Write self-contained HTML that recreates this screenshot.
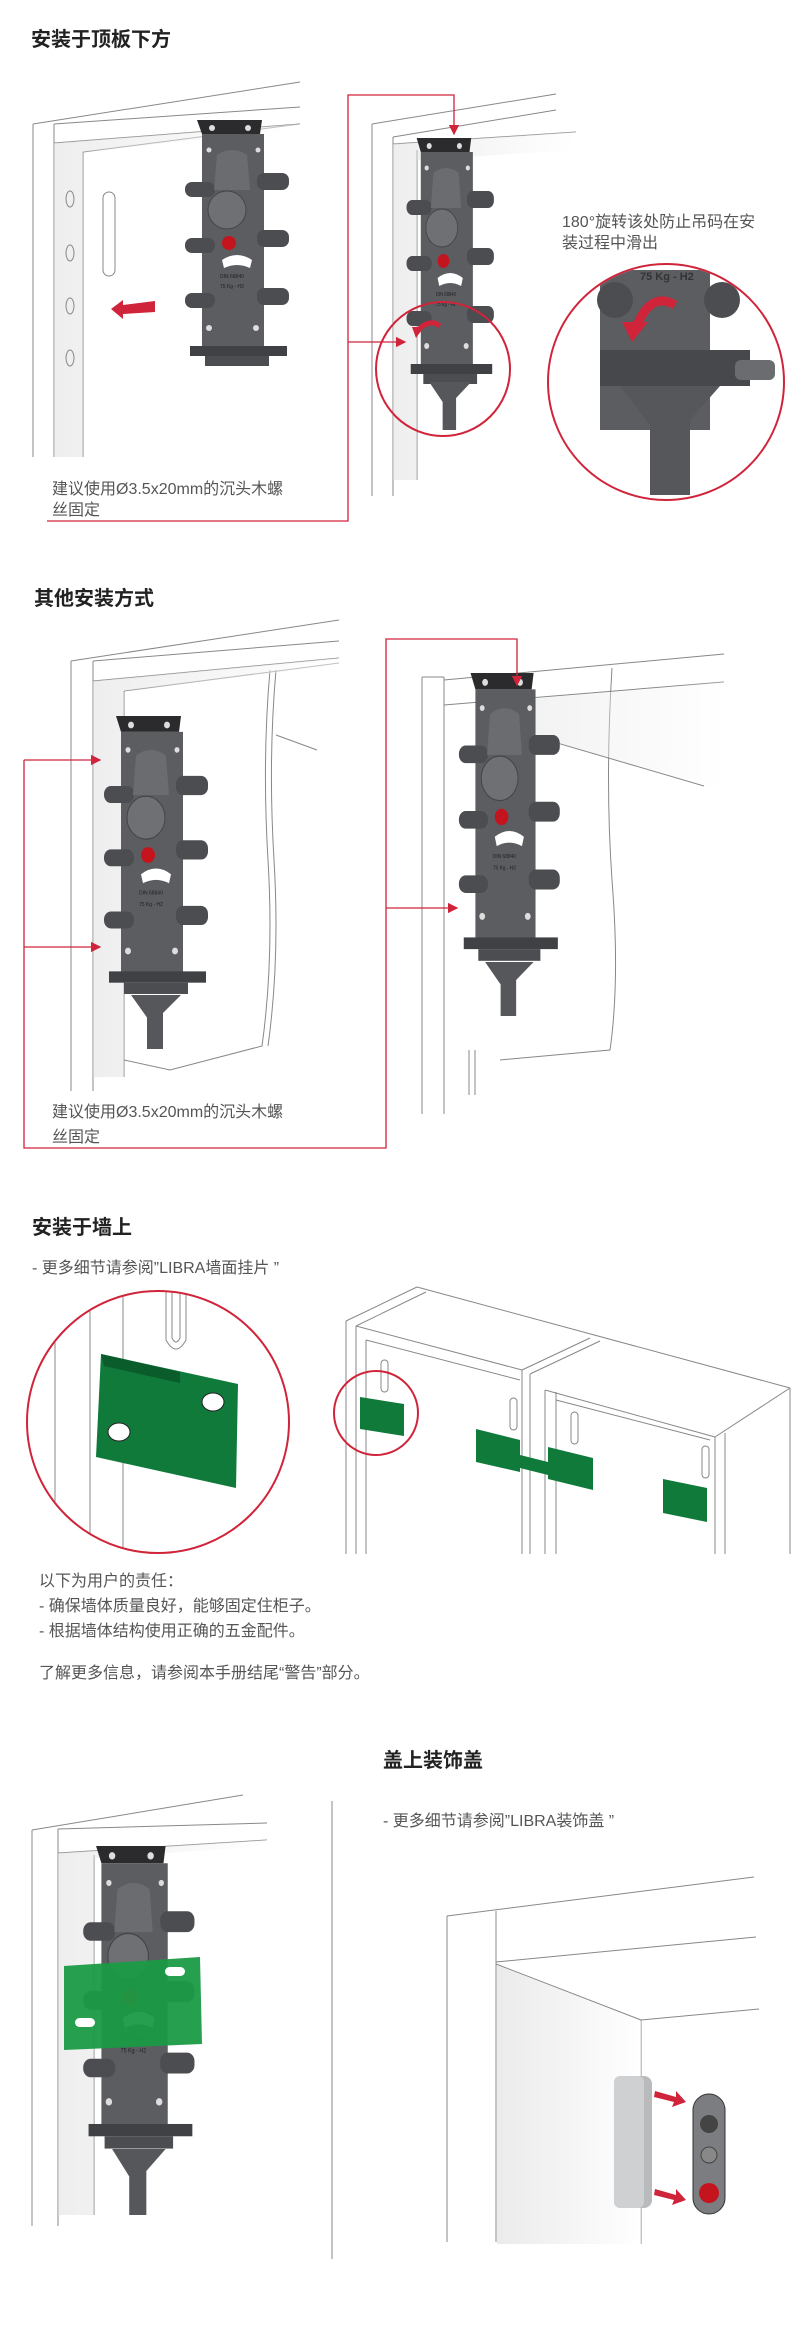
<!DOCTYPE html>
<html><head><meta charset="utf-8"><style>
html,body{margin:0;padding:0;background:#fff;}
svg{display:block;}
text{font-family:"Liberation Sans","Noto Sans CJK SC",sans-serif;}
.t{font-size:20px;font-weight:bold;fill:#222;}
.b{font-size:16px;fill:#555;}
.l{stroke:#888;stroke-width:1;fill:none;}
.r{stroke:#d0243a;stroke-width:1.3;fill:none;}
</style></head><body>
<svg width="809" height="2335" viewBox="0 0 809 2335" xmlns="http://www.w3.org/2000/svg">
<defs>
<linearGradient id="sh" x1="0" y1="0" x2="1" y2="0"><stop offset="0" stop-color="#ddd"/><stop offset="1" stop-color="#fff"/></linearGradient>
<linearGradient id="sv" x1="0" y1="0" x2="0" y2="1"><stop offset="0" stop-color="#ccc"/><stop offset="1" stop-color="#fff"/></linearGradient>
<marker id="ah" markerWidth="8" markerHeight="8" refX="7" refY="4" orient="auto"><path d="M0,0 L8,4 L0,8 z" fill="#d0243a"/></marker>
<g id="mb">
 <polygon points="15,0 80,0 78,14 20,14" fill="#2b2b2d"/>
 <circle cx="30" cy="8" r="3" fill="#ddd"/><circle cx="66" cy="8" r="3" fill="#ddd"/>
 <path d="M20,14 H82 V228 H20 Z" fill="#5b5d61"/>
 <rect x="3" y="62" width="30" height="15" rx="7" fill="#4b4d51"/>
 <rect x="3" y="118" width="30" height="15" rx="7" fill="#4b4d51"/>
 <rect x="3" y="173" width="30" height="15" rx="7" fill="#4b4d51"/>
 <rect x="75" y="53" width="32" height="17" rx="7" fill="#4b4d51"/>
 <rect x="75" y="110" width="32" height="17" rx="7" fill="#4b4d51"/>
 <rect x="75" y="168" width="32" height="17" rx="7" fill="#4b4d51"/>
 <path d="M35,35 Q50,25 65,35 L68,70 H32 Z" fill="#6a6c70"/>
 <circle cx="45" cy="90" r="19" fill="#6e7074" stroke="#444" stroke-width="1"/>
 <circle cx="47" cy="123" r="7" fill="#c4151f"/>
 <path d="M40,140 Q55,130 70,140 L68,148 Q55,142 42,148 Z" fill="#fff"/>
 <text x="38" y="158" font-size="5" fill="#222">DIN 68840</text>
 <text x="38" y="168" font-size="5" fill="#222">75 Kg - H2</text>
 <circle cx="27" cy="30" r="2.5" fill="#ddd"/><circle cx="76" cy="30" r="2.5" fill="#ddd"/>
 <circle cx="27" cy="208" r="3" fill="#ddd"/><circle cx="74" cy="208" r="3" fill="#ddd"/>
 <rect x="8" y="226" width="97" height="10" fill="#3f4145"/>
 <rect x="23" y="236" width="64" height="10" fill="#4b4d51"/>
</g>
<g id="mt"><path d="M30,0 H80 L62,20 L62,60 H46 L46,25 Z" fill="#55575b"/></g>
</defs>

<!-- SECTION 1 -->
<text class="t" x="31" y="46">安装于顶板下方</text>
<g class="l">
 <line x1="33" y1="124" x2="33" y2="457"/><line x1="54" y1="124" x2="54" y2="457"/><line x1="83" y1="152" x2="83" y2="457"/>
 <line x1="33" y1="124" x2="300" y2="82"/><line x1="54" y1="124" x2="300" y2="107"/>
 <line x1="54" y1="143" x2="300" y2="124"/><line x1="83" y1="152" x2="300" y2="124"/>
</g>
<polygon points="54,143 300,124 300,128 83,152 83,457 54,457" fill="url(#sh)" opacity="0.5"/>
<ellipse cx="70" cy="199" rx="4" ry="8" class="l"/><ellipse cx="70" cy="253" rx="4" ry="8" class="l"/>
<ellipse cx="70" cy="306" rx="4" ry="8" class="l"/><ellipse cx="70" cy="358" rx="4" ry="8" class="l"/>
<rect x="103" y="192" width="12" height="84" rx="6" class="l"/>
<polygon points="111,309 123,300 123,305 155,301 155,312 123,314 123,319" fill="#d0243a"/>
<use href="#mb" transform="translate(182,120)"/>

<g class="l">
 <line x1="372" y1="124" x2="372" y2="496"/><line x1="393" y1="137" x2="393" y2="496"/><line x1="417" y1="150" x2="417" y2="480"/>
 <line x1="372" y1="124" x2="556" y2="94"/><line x1="393" y1="137" x2="556" y2="110"/><line x1="393" y1="144" x2="576" y2="132"/>
</g>
<polygon points="393,144 576,132 576,150 417,160 417,480 393,480" fill="url(#sh)" opacity="0.5"/>
<use href="#mb" transform="translate(404,138) scale(0.84,1)"/>
<use href="#mt" transform="translate(404,382) scale(0.84,0.8)"/>
<path d="M418,330 Q430,318 440,326" stroke="#d0243a" stroke-width="5" fill="none"/>
<polygon points="412,327 424,327 416,338" fill="#d0243a"/>
<circle cx="443" cy="369" r="67" fill="none" stroke="#d0243a" stroke-width="2"/>

<path class="r" d="M47,521 H348 V95 H454 V134" marker-end="url(#ah)"/>
<path class="r" d="M348,342 H405" marker-end="url(#ah)"/>
<text class="b" x="52" y="494">建议使用Ø3.5x20mm的沉头木螺</text>
<text class="b" x="52" y="515">丝固定</text>

<text class="b" x="562" y="227">180°旋转该处防止吊码在安</text>
<text class="b" x="562" y="248">装过程中滑出</text>
<clipPath id="c1"><circle cx="666" cy="382" r="117"/></clipPath>
<g clip-path="url(#c1)">
 <rect x="600" y="270" width="110" height="160" fill="#5b5d61"/>
 <circle cx="615" cy="300" r="18" fill="#4b4d51"/><circle cx="722" cy="300" r="18" fill="#4b4d51"/>
 <rect x="600" y="350" width="150" height="36" fill="#46484c"/>
 <rect x="735" y="360" width="40" height="20" rx="6" fill="#6a6c70"/>
 <path d="M620,386 H720 L690,420 L690,495 H650 L650,425 Z" fill="#55575b"/>
 <text x="640" y="280" font-size="11" font-weight="bold" fill="#333">75 Kg - H2</text>
 <path d="M635,330 Q650,290 675,305" stroke="#d0243a" stroke-width="9" fill="none"/>
 <polygon points="622,322 648,322 632,342" fill="#d0243a"/>
</g>
<circle cx="666" cy="382" r="118" fill="none" stroke="#d0243a" stroke-width="2"/>

<!-- SECTION 2 -->
<text class="t" x="34" y="605">其他安装方式</text>
<g class="l">
 <line x1="71" y1="661" x2="71" y2="1091"/><line x1="93" y1="661" x2="93" y2="1091"/><line x1="124" y1="691" x2="124" y2="1077"/>
 <line x1="71" y1="661" x2="339" y2="620"/><line x1="93" y1="661" x2="339" y2="641"/><line x1="93" y1="681" x2="339" y2="658"/><line x1="124" y1="691" x2="339" y2="663"/>
 <path d="M270,670 Q262,760 268,860 Q274,960 262,1046 L170,1070 L124,1060"/>
 <path d="M276,670 Q268,760 274,860 Q280,960 268,1046"/>
 <line x1="276" y1="735" x2="317" y2="750"/>
</g>
<polygon points="93,681 339,658 339,665 124,691 124,1077 93,1077" fill="url(#sh)" opacity="0.5"/>
<use href="#mb" transform="translate(101,716) scale(1,1.13)"/>
<use href="#mt" transform="translate(101,995) scale(1,0.9)"/>

<g class="l">
 <line x1="422" y1="677" x2="422" y2="1114"/><line x1="444" y1="677" x2="444" y2="1114"/>
 <line x1="422" y1="677" x2="444" y2="677"/>
 <line x1="444" y1="680" x2="724" y2="654"/><line x1="444" y1="705" x2="724" y2="682"/>
 <line x1="530" y1="735" x2="704" y2="786"/>
 <path d="M612,668 Q605,780 612,880 Q620,980 610,1050 L500,1060"/>
 <line x1="469" y1="1050" x2="469" y2="1095"/><line x1="475" y1="1050" x2="475" y2="1095"/>
</g>
<polygon points="520,700 724,682 724,790 530,735" fill="url(#sh)" opacity="0.4"/>
<use href="#mb" transform="translate(456,673) scale(0.97,1.17)"/>
<use href="#mt" transform="translate(456,962) scale(0.97,0.9)"/>

<path class="r" d="M24,760 V1148 H386 V639 H517 V685" marker-end="url(#ah)"/>
<path class="r" d="M24,760 H100" marker-end="url(#ah)"/>
<path class="r" d="M24,947 H100" marker-end="url(#ah)"/>
<path class="r" d="M386,908 H457" marker-end="url(#ah)"/>
<text class="b" x="52" y="1117">建议使用Ø3.5x20mm的沉头木螺</text>
<text class="b" x="52" y="1142">丝固定</text>

<!-- SECTION 3 -->
<text class="t" x="32" y="1234">安装于墙上</text>
<text class="b" x="32" y="1273">- 更多细节请参阅”LIBRA墙面挂片 ”</text>
<clipPath id="c2"><circle cx="158" cy="1422" r="130"/></clipPath>
<g clip-path="url(#c2)" class="l" stroke="#333">
 <line x1="55" y1="1290" x2="55" y2="1560"/><line x1="90" y1="1290" x2="90" y2="1560"/><line x1="123" y1="1290" x2="123" y2="1560"/>
 <path d="M166,1290 V1340 Q176,1358 186,1340 V1290"/>
 <path d="M172,1290 V1338 Q176,1346 180,1338 V1290"/>
</g>
<polygon points="101,1354 238,1384 236,1488 96,1457" fill="#0f7a3a"/>
<polygon points="101,1354 180,1372 180,1383 104,1366" fill="#0a5c2b"/>
<ellipse cx="213" cy="1402" rx="11" ry="9" fill="#fff" stroke="#222"/>
<ellipse cx="119" cy="1432" rx="11" ry="9" fill="#fff" stroke="#222"/>
<circle cx="158" cy="1422" r="131" fill="none" stroke="#d0243a" stroke-width="2"/>

<g class="l" stroke="#666">
 <line x1="346" y1="1321" x2="346" y2="1554"/><line x1="356" y1="1326" x2="356" y2="1554"/><line x1="366" y1="1340" x2="366" y2="1554"/>
 <line x1="346" y1="1321" x2="417" y2="1287"/><line x1="356" y1="1326" x2="426" y2="1292"/>
 <line x1="417" y1="1287" x2="790" y2="1388"/>
 <line x1="356" y1="1326" x2="522" y2="1370"/><line x1="366" y1="1340" x2="520" y2="1380"/>
 <line x1="522" y1="1370" x2="590" y2="1338"/><line x1="530" y1="1374" x2="600" y2="1341"/>
 <line x1="522" y1="1370" x2="522" y2="1554"/><line x1="530" y1="1374" x2="530" y2="1554"/><line x1="545" y1="1390" x2="545" y2="1554"/><line x1="556" y1="1392" x2="556" y2="1554"/>
 <line x1="545" y1="1390" x2="715" y2="1437"/><line x1="556" y1="1400" x2="710" y2="1440"/>
 <line x1="715" y1="1437" x2="790" y2="1388"/>
 <line x1="715" y1="1437" x2="715" y2="1554"/><line x1="725" y1="1433" x2="725" y2="1554"/><line x1="790" y1="1388" x2="790" y2="1554"/>
 <rect x="381" y="1360" width="7" height="32" rx="3.5"/>
 <rect x="510" y="1398" width="7" height="32" rx="3.5"/>
 <rect x="571" y="1412" width="7" height="32" rx="3.5"/>
 <rect x="702" y="1446" width="7" height="32" rx="3.5"/>
</g>
<polygon points="360,1397 404,1404 404,1436 360,1429" fill="#0f7a3a"/>
<polygon points="476,1429 520,1440 520,1472 476,1462" fill="#0f7a3a"/>
<polygon points="520,1455 548,1462 548,1475 520,1468" fill="#0f7a3a"/>
<polygon points="548,1447 593,1458 593,1490 548,1479" fill="#0f7a3a"/>
<polygon points="663,1479 707,1488 707,1522 663,1513" fill="#0f7a3a"/>
<circle cx="376" cy="1413" r="42" fill="none" stroke="#d0243a" stroke-width="2"/>

<text class="b" x="39" y="1586">以下为用户的责任：</text>
<text class="b" x="39" y="1611">- 确保墙体质量良好，能够固定住柜子。</text>
<text class="b" x="39" y="1636">- 根据墙体结构使用正确的五金配件。</text>
<text class="b" x="39" y="1678">了解更多信息，请参阅本手册结尾“警告”部分。</text>

<!-- SECTION 4 -->
<text class="t" x="383" y="1767">盖上装饰盖</text>
<text class="b" x="383" y="1826">- 更多细节请参阅”LIBRA装饰盖 ”</text>
<g class="l">
 <line x1="32" y1="1830" x2="32" y2="2226"/><line x1="58" y1="1829" x2="58" y2="2226"/><line x1="94" y1="1855" x2="94" y2="2215"/>
 <line x1="32" y1="1830" x2="243" y2="1795"/><line x1="58" y1="1829" x2="267" y2="1823"/><line x1="58" y1="1853" x2="267" y2="1840"/>
 <line x1="332" y1="1801" x2="332" y2="2259"/>
</g>
<polygon points="58,1853 267,1840 267,1846 94,1858 94,2215 58,2215" fill="url(#sh)" opacity="0.5"/>
<use href="#mb" transform="translate(80,1846) scale(1.07,1.23)"/>
<use href="#mt" transform="translate(80,2149) scale(1.07,1.1)"/>
<path d="M64,1966 L200,1957 L202,2044 L64,2050 Z" fill="#1a9a45" opacity="0.95"/>
<rect x="165" y="1967" width="20" height="9" rx="4.5" fill="#fff"/>
<rect x="75" y="2018" width="20" height="9" rx="4.5" fill="#fff"/>

<g class="l" stroke="#333">
 <line x1="447" y1="1916" x2="447" y2="2242"/><line x1="496" y1="1911" x2="496" y2="2242"/>
 <line x1="447" y1="1916" x2="754" y2="1877"/>
 <line x1="496" y1="1962" x2="756" y2="1937"/>
 <line x1="496" y1="1964" x2="641" y2="2020"/><line x1="641" y1="2020" x2="759" y2="2009"/>
 <line x1="641" y1="2020" x2="641" y2="2244"/>
</g>
<polygon points="497,1965 641,2021 641,2244 497,2244" fill="url(#sh)" opacity="0.6"/>
<rect x="614" y="2076" width="38" height="132" rx="8" fill="#b9babc"/>
<rect x="614" y="2076" width="30" height="132" rx="6" fill="#cfd0d2"/>
<rect x="693" y="2094" width="32" height="120" rx="16" fill="#7b7d80" stroke="#333"/>
<circle cx="709" cy="2124" r="9" fill="#444"/>
<circle cx="709" cy="2155" r="8" fill="#888" stroke="#444"/>
<circle cx="709" cy="2193" r="10" fill="#c4151f"/>
<polygon points="655,2091 676,2097 676,2091 686,2102 672,2107 674,2102 654,2097" fill="#d0243a"/>
<polygon points="655,2189 676,2195 676,2189 686,2200 672,2205 674,2200 654,2195" fill="#d0243a"/>
</svg>
</body></html>
